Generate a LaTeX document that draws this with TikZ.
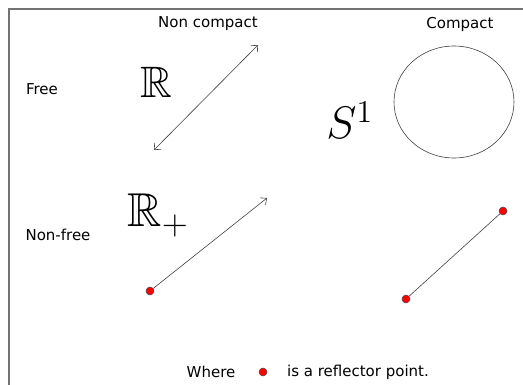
\documentclass[tikz,border=0pt]{standalone}
\usepackage{amssymb}
\usepackage{fontspec}
\setmainfont{DejaVu Sans}
\usepackage{tikz}
\usetikzlibrary{shapes.geometric, arrows.meta}

\begin{document}
\begin{tikzpicture}[
    x=1pt, y=-1pt,
    label_text/.style={font=\fontsize{15}{18}\selectfont, inner sep=0pt},
    big_math/.style={font=\fontsize{20}{24}\selectfont, scale=2.2, inner sep=0pt, anchor=base west},
    reflector/.style={circle, draw=black!70, fill=red, minimum size=8pt, inner sep=0pt, line width=0.5pt},
    line_arrow/.style={draw=black!75, line width=0.6pt},
    tip/.tip={Straight Barb[length=5pt, width=9pt, line width=0.6pt]}
]
    \useasboundingbox (0,0) rectangle (523,385);
    \draw[black!55, line width=1.2pt] (9,385) -- (9,9) -- (523,9);

        \node[label_text] (NC) at (208,24) {Non compact};
        \node[label_text] (C) at (460,24) {Compact};
        \node[label_text] (F) at (42,89) {Free};
        \node[label_text] (NF) at (58,235) {Non-free};

        \node[big_math] (R) at (140,98) {$\mathbb{R}$};
        \node[big_math] (S) at (326,139) {$S^1$};
        \node[big_math, scale=1.08] (Rp) at (127,227) {$\mathbb{R}_+$};

        \coordinate (Ra) at (154,150);
        \coordinate (Rb) at (258,45);
        \draw[line_arrow, {tip}-{tip}] (Ra) -- (Rb);

        \node[draw=black!75, line width=0.6pt, ellipse, minimum width=120pt, minimum height=112pt] (Circ) at (454,102) {};

        \node[reflector] (P1) at (150,291) {};
        \coordinate (Pe) at (267,198);
        \draw[line_arrow, -{tip}] (P1) -- (Pe);

        \node[reflector] (P2) at (406,299) {};
        \node[reflector] (P3) at (503,211) {};
        \draw[line_arrow] (P2) -- (P3);

        \node[label_text] (W) at (211,372) {Where};
        \node[reflector] (Pk) at (263,372) {};
        \node[label_text] (RP) at (358,372) {is a reflector point.};

    \end{tikzpicture}
\end{document}
